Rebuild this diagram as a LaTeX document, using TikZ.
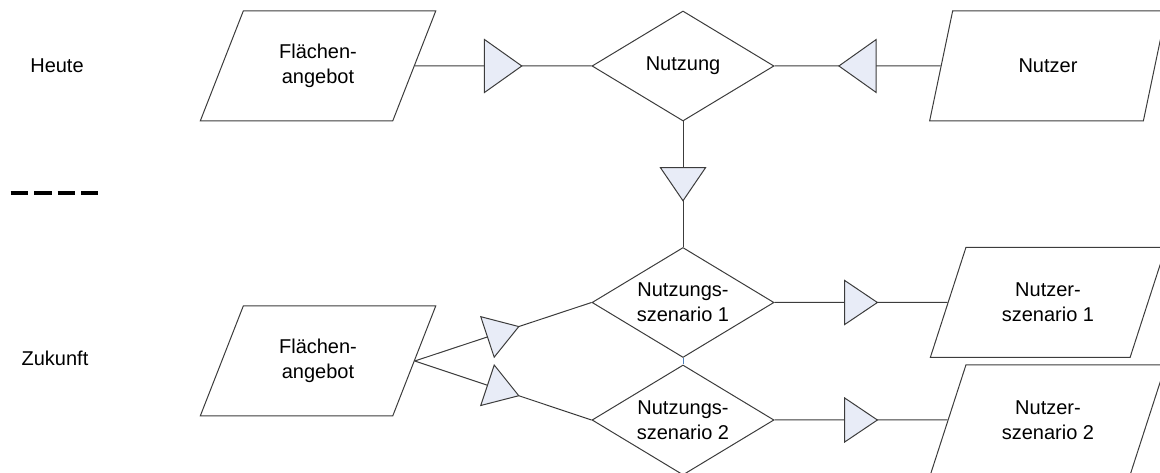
\documentclass[tikz,border=0pt]{standalone}
\usepackage{fontspec}
\setmainfont{Liberation Sans}
\usepackage{tikz}
\usetikzlibrary{decorations.markings}
\usetikzlibrary{shapes.geometric}

\definecolor{flowgray}{RGB}{60,60,60}
\definecolor{triblue}{RGB}{232,236,247}
\definecolor{linkblue}{RGB}{79,129,189}

\tikzset{
  datanode/.style={draw=flowgray,line width=.75pt,trapezium,trapezium left angle=63,
    trapezium right angle=117,trapezium stretches=true,minimum width=178pt,
    minimum height=82.5pt,inner sep=0pt,align=center},
  usenode/.style={draw=flowgray,line width=.75pt,diamond,aspect=1.65,minimum width=136.5pt,
    minimum height=82.5pt,inner sep=0pt,align=center},
  flow/.style 2 args={draw=flowgray,line width=.75pt,postaction={decorate},
    decoration={markings,mark=at position .5 with {\draw[flowgray,line width=.75pt,fill=triblue]
      (-#1/2,-#2/2) -- (#1/2,0) -- (-#1/2,#2/2) -- cycle;}}},
}

\begin{document}
\begin{tikzpicture}[x=.75pt,y=-.75pt,font=\fontsize{15}{19}\selectfont]
  \useasboundingbox (0,0) rectangle (1160,473);
  \node (heute) at (57,66) {Heute};
  \node (zukunft) at (55,358) {Zukunft};
  \draw[black,line width=2.4pt,dash pattern=on 13.3pt off 4.3pt] (10.7,193) -- (98.3,193);
  % heute
  \node[datanode] (flaeche) at (318,66) {Flächen-\\angebot};
  \node[usenode] (nutzung) at (683,66) {Nutzung};
  \node[datanode] (nutzer) at (1048,66) {Nutzer};
  % zukunft
  \node[datanode] (flaecheZ) at (318,361) {Flächen-\\angebot};
  \node[usenode] (szenA) at (683,302.5) {Nutzungs-\\szenario 1};
  \node[usenode] (szenB) at (683,420) {Nutzungs-\\szenario 2};
  \node[datanode] (nutzerA) at (1048,302.5) {Nutzer-\\szenario 1};
  \node[datanode] (nutzerB) at (1048,420) {Nutzer-\\szenario 2};
  \draw[flow={28pt}{39.75pt}] (flaeche) -- (nutzung);
  \draw[flow={28pt}{39.75pt}] (nutzer) -- (nutzung);
  \draw[flow={24.75pt}{33.75pt}] (nutzung) -- (szenA);
  \draw[flow={24.75pt}{32pt}] (flaecheZ.east) -- (szenA.west);
  \draw[flow={24.75pt}{32pt}] (flaecheZ.east) -- (szenB.west);
  \draw[flow={24.5pt}{33pt}] (szenA) -- (nutzerA);
  \draw[flow={24.5pt}{33pt}] (szenB) -- (nutzerB);
  \draw[linkblue,line width=.75pt] (szenA) -- (szenB);
\end{tikzpicture}
\end{document}
